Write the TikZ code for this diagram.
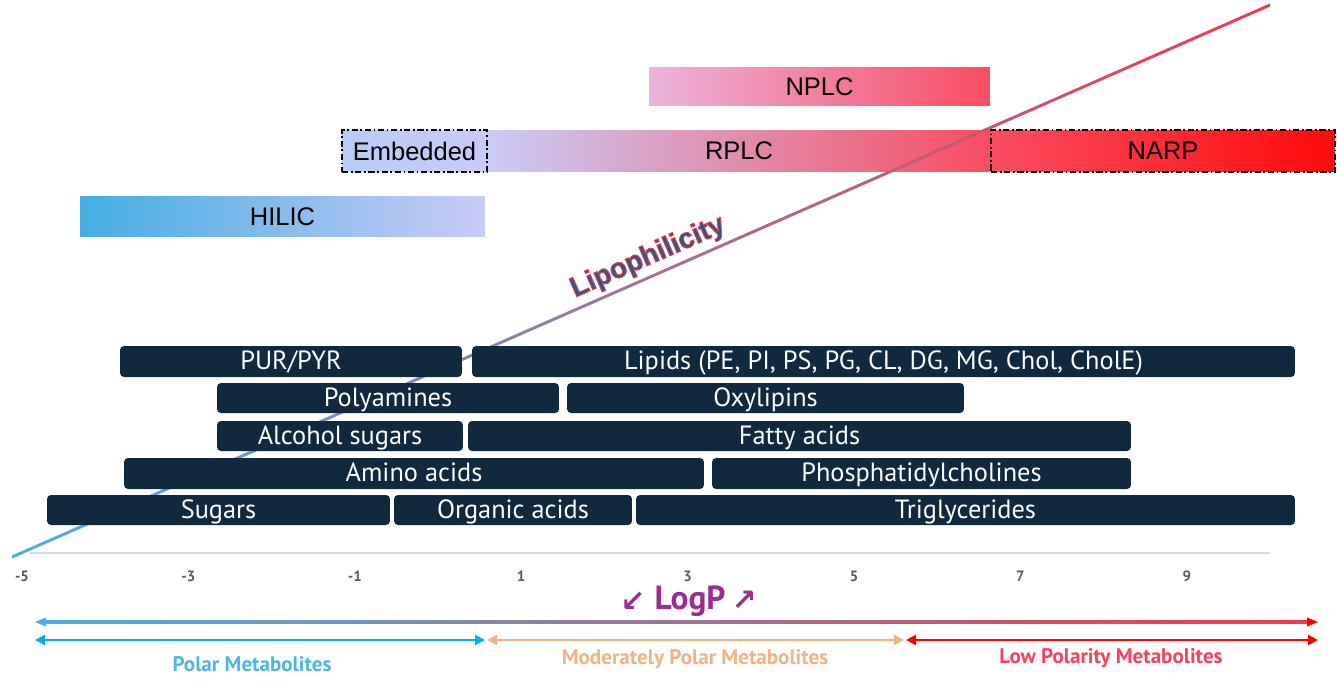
\documentclass[tikz,border=0pt]{standalone}
\usepackage{fontspec}
\setmainfont{Liberation Sans}
\newfontfamily\labelfont{PT Sans}
\newfontfamily\symbfont{DejaVu Sans}
\usetikzlibrary{arrows.meta,positioning}

\definecolor{navy}{HTML}{10293F}
\definecolor{hilicblue}{HTML}{45AEE3}
\definecolor{lavender}{HTML}{CACBF7}
\definecolor{embblue}{HTML}{B8CCF6}
\definecolor{rmid}{HTML}{DDB4DD}
\definecolor{pinkred}{HTML}{F94D61}
\definecolor{npink}{HTML}{EBB3DD}
\definecolor{narpred}{HTML}{FF0A0A}
\definecolor{lipoblue}{HTML}{4AAFE3}
\definecolor{lipopurple}{HTML}{B58CC6}
\definecolor{lipored}{HTML}{F5384B}
\definecolor{lipotext}{HTML}{1F5D8A}
\definecolor{axisgray}{HTML}{D9D9D9}
\definecolor{tickgray}{HTML}{595959}
\definecolor{logpurple}{HTML}{9C2D8F}
\definecolor{polarblue}{HTML}{00B0F0}
\definecolor{polartext}{HTML}{4DB5E8}
\definecolor{peach}{HTML}{F4B183}
\definecolor{lowred}{HTML}{FF0000}
\definecolor{lowtext}{HTML}{F9415B}

\tikzset{
  bar/.style={rectangle, inner sep=0pt, font=\fontsize{14.5}{16}\selectfont},
  dashbox/.style={bar, draw=black, line width=0.8pt,
    dash pattern=on 3.5pt off 1.5pt on 1pt off 1.5pt},
  class/.style={rectangle, rounded corners=0.08cm, fill=navy, text=white,
    inner sep=0pt, text height=1.75ex, text depth=0ex,
    font=\labelfont\fontsize{15}{16}\selectfont},
  ticklabel/.style={text=tickgray, font=\labelfont\bfseries\fontsize{8.5}{9}\selectfont},
  polrange/.style={line width=1.4pt, {Triangle[length=0.2cm,width=0.2cm]}-{Triangle[length=0.2cm,width=0.2cm]}},
  rangetext/.style={font=\labelfont\bfseries\fontsize{12}{14}\selectfont},
  logarrow/.style={font=\symbfont\bfseries\fontsize{17}{18}\selectfont, text=logpurple}
}

\begin{document}
\begin{tikzpicture}[x=0.02cm, y=-0.02cm]
  \useasboundingbox (0,0) rectangle (1337,689);

  %Separation modes
  \node[bar, minimum width=8.10cm, minimum height=0.82cm,
        left color=hilicblue, right color=lavender] (hilic) at (282.5,216.5) {HILIC};
  \node[bar, minimum width=10.08cm, minimum height=0.84cm,
        left color=lavender, middle color=rmid, right color=pinkred] (rplc) at (739,151) {RPLC};
  \node[dashbox, minimum width=2.90cm, minimum height=0.84cm,
        left color=embblue, right color=lavender] (embedded) at (414.5,151) {Embedded};
  \node[dashbox, minimum width=6.88cm, minimum height=0.84cm,
        left color=pinkred, right color=narpred] (narp) at (1163,151) {NARP};
  \node[bar, minimum width=6.82cm, minimum height=0.78cm,
        left color=npink, right color=pinkred] (nplc) at (819.5,86.5) {NPLC};

  %Lipophilicity line
  \coordinate (lipostart) at (12,557);
  \coordinate (lipoend) at (1270,5);
  \shade[left color=lipoblue, middle color=lipopurple, right color=lipored]
    (12,555.4) -- (1270,3.4) -- (1270,6.6) -- (12,558.6) -- cycle;
  \node[rotate=23.7, text=lipotext, font=\bfseries\fontsize{16}{18}\selectfont]
    (lipolabel) at (648,257.5)
    {\special{pdf:literal direct 0.96 0.22 0.29 RG 0.5 w 2 Tr}Lipophilicity\special{pdf:literal direct 0 Tr}};

  %Metabolite classes
  \node[class, minimum width=6.84cm, minimum height=0.62cm] (purpyr) at (291,361.5) {PUR/PYR};
  \node[class, minimum width=16.46cm, minimum height=0.62cm] (lipids) at (883.5,361.5) {Lipids (PE, PI, PS, PG, CL, DG, MG, Chol, CholE)};
  \node[class, minimum width=6.84cm, minimum height=0.60cm] (polyamines) at (388,398) {Polyamines};
  \node[class, minimum width=7.94cm, minimum height=0.60cm] (oxylipins) at (765.5,398) {Oxylipins};
  \node[class, minimum width=4.92cm, minimum height=0.60cm] (alcsugars) at (340,436) {Alcohol sugars};
  \node[class, minimum width=13.26cm, minimum height=0.60cm] (fattyacids) at (799.5,436) {Fatty acids};
  \node[class, minimum width=11.60cm, minimum height=0.62cm] (aminoacids) at (414,473.5) {Amino acids};
  \node[class, minimum width=8.38cm, minimum height=0.62cm] (pcs) at (921.5,473.5) {Phosphatidylcholines};
  \node[class, minimum width=6.86cm, minimum height=0.60cm] (sugars) at (218.5,510) {Sugars};
  \node[class, minimum width=4.76cm, minimum height=0.60cm] (orgacids) at (513,510) {Organic acids};
  \node[class, minimum width=13.18cm, minimum height=0.60cm] (tgs) at (965.5,510) {Triglycerides};

  %LogP axis
  \coordinate (axisL) at (30,553);
  \coordinate (axisR) at (1270,553);
  \draw[axisgray, line width=1.2pt] (axisL) -- (axisR);
  \foreach \v in {-5,-3,...,9}
    \node[ticklabel] (tick\v) at ({22+(\v+5)*83.2},576) {\v};
  \node[text=logpurple, font=\labelfont\bfseries\fontsize{19}{22}\selectfont] (logp) at (690,601) {LogP};
  \node[logarrow] (logdown) at (633,602) {↙};
  \node[logarrow] (logup) at (744,601) {↗};

  %Polarity ranges
  \coordinate (allL) at (35,622);
  \coordinate (allR) at (1318,622);
  \shade[left color=lipoblue, middle color=lipopurple!60!logpurple, right color=lipored]
    (45,620.8) rectangle (1308,623.2);
  \fill[lipoblue] (allL) -- ++(11,-4.5) -- ++(0,9) -- cycle;
  \fill[lowred] (allR) -- ++(-11,-4.5) -- ++(0,9) -- cycle;

  \coordinate (polarL) at (35,640);
  \coordinate (polarR) at (485,640);
  \coordinate (modL) at (487,640);
  \coordinate (modR) at (904,640);
  \coordinate (lowL) at (906,640);
  \coordinate (lowR) at (1318,640);
  \draw[polrange, polarblue] (polarL) -- (polarR);
  \draw[polrange, peach] (modL) -- (modR);
  \draw[polrange, lowred] (lowL) -- (lowR);

  \node[rangetext, text=polartext] (polarlabel) at (252,664) {Polar Metabolites};
  \node[rangetext, text=peach] (modlabel) at (695,659) {Moderately Polar Metabolites};
  \node[rangetext, text=lowtext] (lowlabel) at (1111,658) {Low Polarity Metabolites};
\end{tikzpicture}
\end{document}
